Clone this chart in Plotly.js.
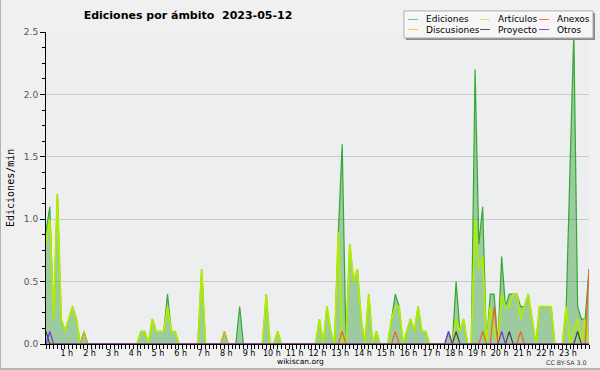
<!DOCTYPE html>
<html>
<head>
<meta charset="utf-8">
<script src="https://cdn.plot.ly/plotly-3.0.1.min.js"></script>
<style>
html,body{margin:0;padding:0;background:#f0f0f0;}
#chart{width:600px;height:370px;}
</style>
</head>
<body>
<div id="chart"></div>
<script>
// 10-minute bins over the day (144 bins), values in edits/min
const ediciones = [
 0.9,1.1,0.2,1.2,0.2,0.1,0.2,0.3,0.2,0,0.1,0,
 0,0,0,0,0,0,0,0,0,0,0,0,
 0,0.1,0.1,0,0.2,0.1,0.1,0.1,0.4,0.1,0.1,0,
 0,0,0,0,0,0.6,0,0,0,0,0,0.1,
 0,0,0,0.3,0,0,0,0,0,0,0.4,0,
 0,0.1,0,0,0,0,0,0,0,0,0,0,
 0.2,0,0.3,0.1,0,0.9,1.6,0,0.8,0.5,0.6,0.2,
 0,0.4,0,0.1,0,0,0,0.2,0.4,0.3,0,0.1,
 0.2,0.1,0.3,0.1,0.1,0,0,0,0,0,0.1,0,
 0.5,0.1,0.2,0,0,2.2,0.8,1.1,0,0.4,0.4,0,
 0.7,0.3,0.4,0.4,0.4,0.3,0.3,0.4,0.2,0,0.3,0.3,
 0.3,0.3,0,0,0,0.3,1.4,2.5,0.3,0.2,0.2,0.6
];
const articulos = [
 0.8,1.0,0.2,1.2,0.2,0.1,0.2,0.3,0.2,0,0,0,
 0,0,0,0,0,0,0,0,0,0,0,0,
 0,0.1,0.1,0,0.2,0.1,0.1,0.1,0.3,0.1,0.1,0,
 0,0,0,0,0,0.6,0,0,0,0,0,0,
 0,0,0,0,0,0,0,0,0,0,0.4,0,
 0,0.1,0,0,0,0,0,0,0,0,0,0,
 0.2,0,0.3,0.1,0,0.9,0,0,0.8,0.5,0.6,0.2,
 0,0.4,0,0.1,0,0,0,0.2,0.3,0.3,0,0.1,
 0.2,0.1,0.3,0.1,0.1,0,0,0,0,0,0,0,
 0.2,0.1,0.2,0,0,1.0,0.6,0.7,0,0.3,0.1,0,
 0.4,0.3,0.3,0.4,0.4,0.2,0.3,0.4,0.2,0,0.3,0.3,
 0.3,0.3,0,0,0,0.3,0,0.1,0.2,0,0.2,0
];
const anexos = [
 0,0,0,0,0,0,0,0,0,0,0,0,
 0,0,0,0,0,0,0,0,0,0,0,0,
 0,0,0,0,0,0,0,0,0,0,0,0,
 0,0,0,0,0,0,0,0,0,0,0,0,
 0,0,0,0,0,0,0,0,0,0,0,0,
 0,0,0,0,0,0,0,0,0,0,0,0,
 0,0,0,0,0,0,0.1,0,0,0,0,0,
 0,0,0,0,0,0,0,0,0.1,0,0,0,
 0,0,0,0,0,0,0,0,0,0,0,0,
 0,0,0,0,0,0,0,0.1,0,0,0.3,0,
 0,0,0,0,0,0.1,0,0,0,0,0,0,
 0,0,0,0,0,0,0,0,0,0,0,0.6
];
const discusiones = [
 0,0,0,0,0,0,0,0,0,0,0.1,0,
 0,0,0,0,0,0,0,0,0,0,0,0,
 0,0,0,0,0,0,0,0,0,0,0,0,
 0,0,0,0,0,0,0,0,0,0,0,0.1,
 0,0,0,0,0,0,0,0,0,0,0,0,
 0,0,0,0,0,0,0,0,0,0,0,0,
 0,0,0,0,0,0,0,0,0,0,0,0,
 0,0,0,0,0,0,0,0,0,0,0,0,
 0,0,0,0,0,0,0,0,0,0,0,0,
 0,0,0,0,0,0,0,0,0,0,0,0,
 0,0,0,0,0,0,0,0,0,0,0,0,
 0,0,0,0,0,0,0,0,0,0,0,0
];
const proyecto = [
 0.1,0,0,0,0,0,0,0,0,0,0,0,
 0,0,0,0,0,0,0,0,0,0,0,0,
 0,0,0,0,0,0,0,0,0,0,0,0,
 0,0,0,0,0,0,0,0,0,0,0,0,
 0,0,0,0,0,0,0,0,0,0,0,0,
 0,0,0,0,0,0,0,0,0,0,0,0,
 0,0,0,0,0,0,0,0,0,0,0,0,
 0,0,0,0,0,0,0,0,0,0,0,0,
 0,0,0,0,0,0,0,0,0,0,0,0,
 0.1,0,0,0,0,0,0,0,0,0,0,0,
 0,0,0.1,0,0,0,0,0,0,0,0,0,
 0,0,0,0,0,0,0,0,0.1,0,0,0
];
const otros = [
 0,0.1,0,0,0,0,0,0,0,0,0,0,
 0,0,0,0,0,0,0,0,0,0,0,0,
 0,0,0,0,0,0,0,0,0,0,0,0,
 0,0,0,0,0,0,0,0,0,0,0,0,
 0,0,0,0,0,0,0,0,0,0,0,0,
 0,0,0,0,0,0,0,0,0,0,0,0,
 0,0,0,0,0,0,0,0,0,0,0,0,
 0,0,0,0,0,0,0,0,0,0,0,0,
 0,0,0,0,0,0,0,0,0,0,0.1,0,
 0,0,0,0,0,0,0,0,0,0,0,0,
 0.1,0,0,0,0,0,0,0,0,0,0,0,
 0,0,0,0,0,0,0,0,0,0,0,0
];
const hourTicks = [1,2,3,4,5,6,7,8,9,10,11,12,13,14,15,16,17,18,19,20,21,22,23];
const hourLabels = ['1 h','2 h','3 h','4 h','5 h','6 h','7 h','8 h','9 h','10 h','11 h','12 h',
  '13 h','14 h','15 h','16 h','17 h','18 h','19 h','20 h','21 h','22 h','23 h'];
const yTicks = [0,0.5,1.0,1.5,2.0,2.5];
const yLabels = ['0.0','0.5','1.0','1.5','2.0','2.5'];
const seriesNames = ['Ediciones','Artículos','Anexos','Discusiones','Proyecto','Otros'];
const seriesColors = ['#33a833','#b2ec00','#ee6622','#e0b810','#444444','#7a2ee8'];
const legendColors = ['#77cc77','#c8ee70','#ee7744','#eecc44','#555555','#8844ee'];

// time position of each 10-minute bin, in hours
const hours = ediciones.map((_, i) => i / 6);

const traces = [
  {x: hours, y: ediciones, name: seriesNames[0], mode: 'lines', fill: 'tozeroy',
   fillcolor: 'rgba(60,160,60,0.45)', line: {color: seriesColors[0], width: 1.2}},
  {x: hours, y: articulos, name: seriesNames[1], mode: 'lines', line: {color: seriesColors[1], width: 1.8}},
  {x: hours, y: discusiones, name: seriesNames[3], mode: 'lines', line: {color: seriesColors[3], width: 1.2}},
  {x: hours, y: anexos, name: seriesNames[2], mode: 'lines', line: {color: seriesColors[2], width: 1.2}},
  {x: hours, y: proyecto, name: seriesNames[4], mode: 'lines', line: {color: seriesColors[4], width: 1.2}},
  {x: hours, y: otros, name: seriesNames[5], mode: 'lines', line: {color: seriesColors[5], width: 1.2}}
];

// pixel -> paper helpers (plot area: x 46..589, y 32..344)
const L = 46, R = 589, T = 32, B = 344;
const px = v => (v - L) / (R - L);
const py = v => (B - v) / (B - T);

const shapes = [
  // legend shadow and box
  {type:'rect', xref:'paper', yref:'paper', x0:px(406), x1:px(595), y0:py(13), y1:py(40),
   fillcolor:'#8a8a8a', line:{width:0}},
  {type:'rect', xref:'paper', yref:'paper', x0:px(404), x1:px(593), y0:py(11), y1:py(38),
   fillcolor:'rgba(255,255,255,0.92)', line:{color:'#aaaaaa', width:1}},
  // image border (left and bottom)
  {type:'line', xref:'paper', yref:'paper', x0:px(0.5), x1:px(0.5), y0:py(0), y1:py(370),
   line:{color:'#b4b4b4', width:1}},
  {type:'line', xref:'paper', yref:'paper', x0:px(0), x1:px(600), y0:py(369), y1:py(369),
   line:{color:'#b4b4b4', width:2}}
];
const annotations = [
  {text:'Ediciones/min', xref:'paper', yref:'paper', x:px(10), y:0.5, textangle:-90,
   showarrow:false, xanchor:'center', yanchor:'middle',
   font:{family:'DejaVu Sans Mono', size:10, color:'#000'}},
  {text:'wikiscan.org', xref:'paper', yref:'paper', x:px(300), y:py(361), showarrow:false,
   xanchor:'center', yanchor:'middle', font:{family:'DejaVu Sans', size:7.5, color:'#000'}},
  {text:'CC BY-SA 3.0', xref:'paper', yref:'paper', x:px(589), y:py(362.5), showarrow:false,
   xanchor:'right', yanchor:'middle', font:{family:'DejaVu Sans', size:6.3, color:'#333'}}
];
// legend entries, laid out in 3 columns x 2 rows
const legendOrder = [0,1,2,3,4,5];
const colX = [408, 480, 539];
const rowY = [19.5, 29.5];
legendOrder.forEach((s, k) => {
  const c = k % 3, r = Math.floor(k / 3);
  shapes.push({type:'line', xref:'paper', yref:'paper', x0:px(colX[c]), x1:px(colX[c]+10),
    y0:py(rowY[r]), y1:py(rowY[r]), line:{color:legendColors[s], width:1}});
  annotations.push({text:seriesNames[s], xref:'paper', yref:'paper', x:px(colX[c]+16), y:py(rowY[r]),
    showarrow:false, xanchor:'left', yanchor:'middle',
    font:{family:'DejaVu Sans', size:9, color:'#000'}});
});

const layout = {
  width: 600, height: 370,
  margin: {l: L, r: 600 - R, t: T, b: 370 - B, pad: 0},
  paper_bgcolor: '#f0f0f0',
  plot_bgcolor: '#eceef0',
  showlegend: false,
  title: {text: '<b>Ediciones por ámbito\u00a0\u00a02023-05-12</b>', xref: 'container', yref: 'container',
    x: 188 / 600, xanchor: 'center', y: 1 - 15 / 370, yanchor: 'middle',
    font: {family: 'DejaVu Sans', size: 11, color: '#000'}},
  xaxis: {range: [0, 143 / 6], showline: true, linecolor: '#000', linewidth: 1,
    ticks: 'outside', ticklen: 4, tickcolor: '#000', tickmode: 'array',
    tickvals: hourTicks, ticktext: hourLabels, showgrid: false, zeroline: false,
    ticklabelstandoff: -3, ticklabelshift: -2,
    tickfont: {family: 'DejaVu Sans', size: 8, color: '#000'},
    minor: {tickmode: 'linear', tick0: 0, dtick: 1 / 6, ticks: 'outside', ticklen: 4, tickcolor: '#000', showgrid: false},
    fixedrange: true},
  yaxis: {range: [0, 2.5], showline: true, linecolor: '#000', linewidth: 1,
    ticks: 'outside', ticklen: 5, tickcolor: '#000', tickmode: 'array',
    tickvals: yTicks, ticktext: yLabels, showgrid: true, gridcolor: '#c8c8c8', gridwidth: 1,
    zeroline: false, tickfont: {family: 'DejaVu Sans', size: 9, color: '#555'},
    minor: {tickmode: 'linear', tick0: 0, dtick: 0.125, ticks: 'outside', ticklen: 3, tickcolor: '#000', showgrid: false},
    fixedrange: true},
  shapes: shapes,
  annotations: annotations
};

Plotly.newPlot('chart', traces, layout, {displayModeBar: false, staticPlot: true});
</script>
</body>
</html>
